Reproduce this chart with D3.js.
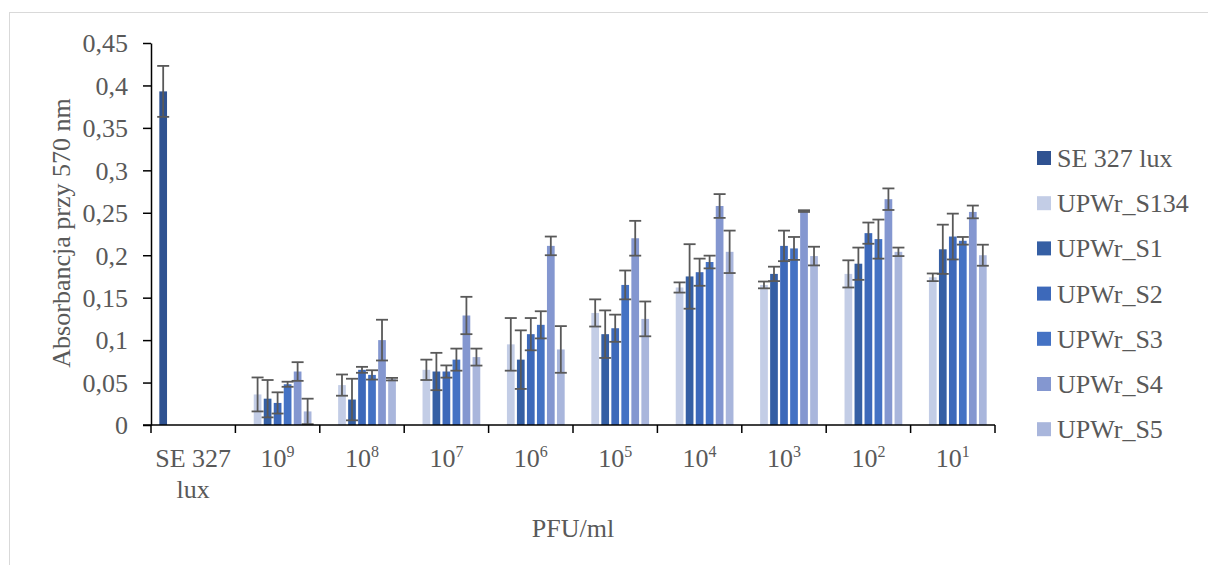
<!DOCTYPE html>
<html>
<head>
<meta charset="utf-8">
<script src="https://cdn.jsdelivr.net/npm/d3@7"></script>
<style>
  body { margin: 0; background: #fff; }
  svg { display: block; }
  text { font-family: "Liberation Serif", "Times New Roman", serif; fill: #595959; }
  .axis path, .axis line { stroke: #000; stroke-width: 1.5; }
</style>
</head>
<body>
<script>
(function (){

    //categories on the x axis ("^" marks the exponent)
    var categories = ["SE 327 lux", "10^9", "10^8", "10^7", "10^6", "10^5", "10^4", "10^3", "10^2", "10^1"];

    //series names (legend order)
    var seriesNames = ["SE 327 lux", "UPWr_S134", "UPWr_S1", "UPWr_S2", "UPWr_S3", "UPWr_S4", "UPWr_S5"];

    //mean absorbance per category (null = no bar)
    var seLux = [0.393, null, null, null, null, null, null, null, null, null];
    var s134  = [null, 0.036, 0.047, 0.065, 0.095, 0.132, 0.162, 0.165, 0.178, 0.174];
    var s1    = [null, 0.031, 0.030, 0.063, 0.077, 0.107, 0.175, 0.178, 0.190, 0.207];
    var s2    = [null, 0.026, 0.065, 0.063, 0.107, 0.114, 0.180, 0.211, 0.226, 0.222];
    var s3    = [null, 0.048, 0.059, 0.077, 0.118, 0.165, 0.192, 0.208, 0.219, 0.217];
    var s4    = [null, 0.063, 0.100, 0.129, 0.211, 0.220, 0.258, 0.252, 0.266, 0.251];
    var s5    = [null, 0.016, 0.054, 0.080, 0.089, 0.125, 0.204, 0.199, 0.204, 0.200];

    //error (+/-) per category
    var seLuxErr = [0.030, null, null, null, null, null, null, null, null, null];
    var s134Err  = [null, 0.020, 0.0125, 0.012, 0.031, 0.016, 0.006, 0.004, 0.016, 0.0045];
    var s1Err    = [null, 0.022, 0.0245, 0.022, 0.0345, 0.028, 0.038, 0.0085, 0.019, 0.029];
    var s2Err    = [null, 0.0125, 0.0035, 0.0072, 0.019, 0.016, 0.016, 0.018, 0.0125, 0.027];
    var s3Err    = [null, 0.003, 0.0055, 0.013, 0.016, 0.017, 0.0075, 0.0135, 0.023, 0.0045];
    var s4Err    = [null, 0.011, 0.024, 0.022, 0.011, 0.0205, 0.014, 0.001, 0.0127, 0.0075];
    var s5Err    = [null, 0.015, 0.0015, 0.010, 0.0275, 0.0205, 0.025, 0.011, 0.005, 0.0124];

    //y axis tick values
    var yTicks = [0, 0.05, 0.1, 0.15, 0.2, 0.25, 0.3, 0.35, 0.4, 0.45];

    var seriesValues = [seLux, s134, s1, s2, s3, s4, s5];
    var seriesErrors = [seLuxErr, s134Err, s1Err, s2Err, s3Err, s4Err, s5Err];
    var colors = ["#2f5291", "#c3cde6", "#355fa4", "#3d69ba", "#4472c4", "#8497d0", "#a9b6dc"];

    var width = 1208,
        height = 565,
        left = 151,
        right = 995,
        top = 43,
        bottom = 425;

    var svg = d3.select("body")
        .append("svg")
        .attr("width", width)
        .attr("height", height);

    //light frame round the chart
    svg.append("rect")
        .attr("x", 9.5)
        .attr("y", 12.5)
        .attr("width", 1400)
        .attr("height", 800)
        .attr("fill", "none")
        .attr("stroke", "#d9d9d9");

    //scales
    var x0 = d3.scaleBand()
        .domain(categories)
        .range([left, right])
        .paddingInner(0.17)
        .paddingOuter(0.085);

    var x1 = d3.scaleBand()
        .domain(seriesNames)
        .range([0, x0.bandwidth()])
        .paddingInner(0.23)
        .paddingOuter(0.115);

    var y = d3.scaleLinear()
        .domain([0, 0.45])
        .range([bottom, top]);

    //flatten into bar records
    var bars = [];
    seriesNames.forEach(function(name, s){
        categories.forEach(function(cat, c){
            var v = seriesValues[s][c];
            if (v != null) {
                bars.push({ series: name, cat: cat, value: v, err: seriesErrors[s][c], color: colors[s] });
            }
        });
    });

    //bars
    svg.selectAll(".bar")
        .data(bars)
        .enter()
        .append("rect")
        .attr("class", "bar")
        .attr("x", function(d){ return x0(d.cat) + x1(d.series); })
        .attr("width", x1.bandwidth())
        .attr("y", function(d){ return y(d.value); })
        .attr("height", function(d){ return y(0) - y(d.value); })
        .attr("fill", function(d){ return d.color; });

    //error bars
    var capHalf = 6;
    var errG = svg.selectAll(".err")
        .data(bars)
        .enter()
        .append("g")
        .attr("class", "err")
        .attr("stroke", "#595959")
        .attr("stroke-width", 1.8);

    errG.append("line")
        .attr("x1", function(d){ return x0(d.cat) + x1(d.series) + x1.bandwidth() / 2; })
        .attr("x2", function(d){ return x0(d.cat) + x1(d.series) + x1.bandwidth() / 2; })
        .attr("y1", function(d){ return y(d.value + d.err); })
        .attr("y2", function(d){ return y(Math.max(0, d.value - d.err)); });

    [1, -1].forEach(function(sign){
        errG.append("line")
            .attr("x1", function(d){ return x0(d.cat) + x1(d.series) + x1.bandwidth() / 2 - capHalf; })
            .attr("x2", function(d){ return x0(d.cat) + x1(d.series) + x1.bandwidth() / 2 + capHalf; })
            .attr("y1", function(d){ return y(Math.max(0, d.value + sign * d.err)); })
            .attr("y2", function(d){ return y(Math.max(0, d.value + sign * d.err)); });
    });

    //y axis
    var plFormat = d3.formatLocale({ decimal: ",", thousands: " ", grouping: [3], currency: ["", ""] }).format("~g");

    var yAxis = svg.append("g")
        .attr("class", "axis")
        .attr("transform", "translate(" + left + ",0)")
        .call(d3.axisLeft(y).tickValues(yTicks).tickSize(8).tickSizeOuter(0).tickPadding(15).tickFormat(plFormat));
    yAxis.selectAll("text")
        .style("font-size", "26px")
        .style("font-family", "Liberation Serif, serif")
        .attr("fill", "#595959")
        .attr("dy", "0.34em");

    //x axis line and ticks at category boundaries
    var step = x0.step();
    var bounds = categories.map(function(c){ return x0(c) - step * x0.paddingInner() / 2; });
    bounds.push(right);

    var xAxis = svg.append("g")
        .attr("class", "axis");
    xAxis.append("line")
        .attr("x1", left - 8).attr("x2", right)
        .attr("y1", y(0)).attr("y2", y(0));
    xAxis.selectAll(".tick")
        .data(bounds)
        .enter()
        .append("line")
        .attr("x1", function(d){ return d; })
        .attr("x2", function(d){ return d; })
        .attr("y1", y(0))
        .attr("y2", y(0) + 8);

    //x labels, with exponents as superscripts
    var labels = svg.selectAll(".xlabel")
        .data(categories)
        .enter()
        .append("text")
        .attr("class", "xlabel")
        .attr("x", function(d){ return x0(d) + x0.bandwidth() / 2; })
        .attr("y", 467)
        .attr("text-anchor", "middle")
        .style("font-size", "26px");

    labels.each(function(d){
        var t = d3.select(this);
        if (d.indexOf("^") >= 0) {
            var parts = d.split("^");
            t.append("tspan").text(parts[0]);
            t.append("tspan")
                .attr("dy", -10)
                .style("font-size", "16px")
                .text(parts[1]);
        } else {
            var words = d.split(" ");
            t.append("tspan")
                .attr("x", t.attr("x"))
                .text(words.slice(0, 2).join(" "));
            t.append("tspan")
                .attr("x", t.attr("x"))
                .attr("dy", 31)
                .text(words.slice(2).join(" "));
        }
    });

    //axis titles
    svg.append("text")
        .attr("x", (left + right) / 2)
        .attr("y", 537)
        .attr("text-anchor", "middle")
        .style("font-size", "26px")
        .text("PFU/ml");

    svg.append("text")
        .attr("transform", "translate(70,233) rotate(-90)")
        .attr("text-anchor", "middle")
        .style("font-size", "26px")
        .text("Absorbancja przy 570 nm");

    //legend
    var legend = svg.selectAll(".legend")
        .data(seriesNames)
        .enter()
        .append("g")
        .attr("class", "legend")
        .attr("transform", function(d, i){ return "translate(1037," + (158 + i * 45.2) + ")"; });

    legend.append("rect")
        .attr("x", 0)
        .attr("y", -7)
        .attr("width", 14)
        .attr("height", 14)
        .attr("fill", function(d, i){ return colors[i]; });

    legend.append("text")
        .attr("x", 20)
        .attr("y", 9)
        .style("font-size", "26px")
        .text(function(d){ return d; });

})();
</script>
</body>
</html>
